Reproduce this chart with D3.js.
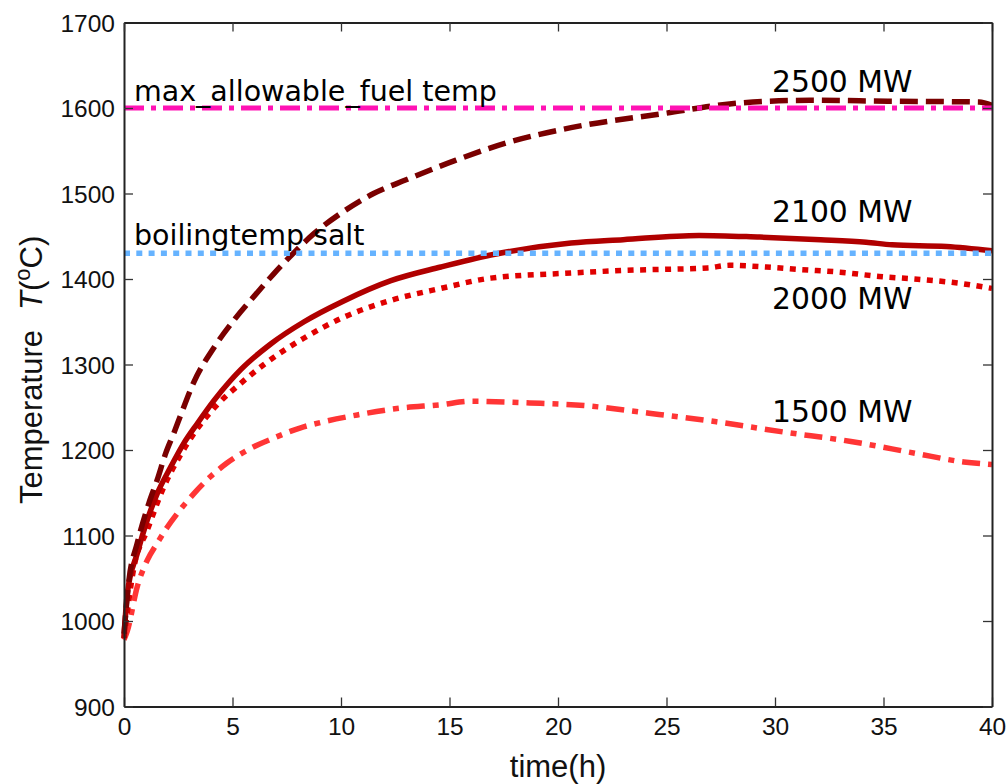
<!DOCTYPE html>
<html>
<head>
<meta charset="utf-8">
<script src="https://cdn.jsdelivr.net/npm/d3@7"></script>
<style>
  body { margin: 0; background: #fff; }
  svg { display: block; }
  .tick text { font-family: "Liberation Sans", Arial, sans-serif; font-size: 24.5px; fill: #111; }
  .note { font-family: "DejaVu Sans", Verdana, sans-serif; font-size: 28.5px; fill: #000; }
  .axlabel { font-family: "Liberation Sans", Arial, sans-serif; font-size: 31px; fill: #111; }
</style>
</head>
<body>
<div id="chart"></div>
<script>
// x ticks / y ticks
const xTicks = [0, 5, 10, 15, 20, 25, 30, 35, 40];
const yTicks = [900, 1000, 1100, 1200, 1300, 1400, 1500, 1600, 1700];

// 2500 MW
const t2500 = [0, 0.23, 0.61, 1.15, 1.53, 1.92, 2.3, 2.6, 3.23, 4.15, 5.07, 6.0, 6.9, 7.8, 8.75, 10, 11.5, 13, 15.3, 17.6, 20.6, 25, 28, 31.6, 35.2, 39.4, 40];
const T2500 = [985, 1048, 1091, 1138, 1165, 1196, 1220, 1240, 1280, 1320, 1352, 1380, 1406, 1430, 1453, 1477, 1500, 1516, 1539, 1559, 1577, 1594, 1605, 1609, 1608, 1607, 1603];

// 2100 MW
const t2100 = [0, 0.15, 0.61, 1.07, 1.53, 2.15, 2.76, 3.38, 4.15, 4.9, 5.38, 6.76, 8.3, 10.1, 12.3, 14.6, 16.9, 20.6, 23, 26.5, 29.3, 32.1, 34.2, 35.4, 37.9, 40];
const T2100 = [980, 1032, 1079, 1118, 1149, 1180, 1208, 1231, 1258, 1281, 1294, 1324, 1350, 1374, 1398, 1414, 1428, 1442, 1446, 1451, 1449, 1446, 1443, 1440, 1438, 1433];

// 2000 MW
const t2000 = [0, 0.46, 1.07, 1.84, 2.6, 3.38, 4.3, 5.38, 6.45, 8.3, 10.1, 12.3, 14.6, 16.9, 20.6, 23, 26.9, 27.9, 29.6, 31.2, 33, 34.8, 36.4, 38.5, 40];
const T2000 = [980, 1063, 1106, 1157, 1194, 1225, 1253, 1278, 1300, 1331, 1355, 1375, 1389, 1401, 1407, 1410, 1413, 1416, 1414, 1411, 1408, 1403, 1400, 1395, 1389];

// 1500 MW
const t1500 = [0, 0.15, 0.61, 1.07, 1.53, 2.0, 2.46, 3.22, 3.99, 4.76, 5.84, 6.9, 8.14, 9.2, 10.75, 12.75, 14.6, 16, 18.7, 21.2, 24.2, 27.3, 30.4, 33.5, 36.5, 38.7, 40];
const T1500 = [978, 988, 1040, 1071, 1091, 1110, 1126, 1149, 1169, 1185, 1202, 1214, 1226, 1233, 1241, 1249, 1253, 1257, 1255, 1252, 1243, 1233, 1221, 1210, 1196, 1186, 1183];

// limits
const maxFuelTemp = 1600;
const boilingSalt = 1430;

const width = 1008, height = 784;
const margin = { left: 124, right: 16, top: 22.5, bottom: 77.5 };

const x = d3.scaleLinear().domain([0, 40]).range([margin.left, width - margin.right]);
const y = d3.scaleLinear().domain([900, 1700]).range([height - margin.bottom, margin.top]);

const svg = d3.select("#chart").append("svg")
    .attr("width", width)
    .attr("height", height);

const line = d3.line()
    .x(d => x(d[0]))
    .y(d => y(d[1]))
    .curve(d3.curveMonotoneX);

const series = [
    { t: t1500, T: T1500, color: "#ff3535", dash: "18,8,6,8" },
    { t: t2000, T: T2000, color: "#e00000", dash: "6,6.5" },
    { t: t2100, T: T2100, color: "#b00000", dash: null },
    { t: t2500, T: T2500, color: "#7a0000", dash: "18,8" }
];

series.forEach(s => {
    svg.append("path")
        .datum(d3.zip(s.t, s.T))
        .attr("d", line)
        .attr("fill", "none")
        .attr("stroke", s.color)
        .attr("stroke-width", 5.5)
        .attr("stroke-dasharray", s.dash);
});

// reference lines
svg.append("line")
    .attr("x1", x(0)).attr("x2", x(40))
    .attr("y1", y(boilingSalt)).attr("y2", y(boilingSalt))
    .attr("stroke", "#66b3ff")
    .attr("stroke-width", 5.5)
    .attr("stroke-dasharray", "6,6.3");

svg.append("line")
    .attr("x1", x(0)).attr("x2", x(40))
    .attr("y1", y(maxFuelTemp)).attr("y2", y(maxFuelTemp))
    .attr("stroke", "#ff12b4")
    .attr("stroke-width", 5)
    .attr("stroke-dasharray", "20,7,5,7");

// axes, ticks pointing inward on all sides
const fmt = d3.format("d");
const axBottom = svg.append("g")
    .attr("transform", `translate(0,${y(900)})`)
    .call(d3.axisBottom(x).tickValues(xTicks).tickFormat(fmt).tickSizeInner(-9).tickSizeOuter(0).tickPadding(11));
const axLeft = svg.append("g")
    .attr("transform", `translate(${x(0)},0)`)
    .call(d3.axisLeft(y).tickValues(yTicks).tickFormat(fmt).tickSizeInner(-9).tickSizeOuter(0).tickPadding(9));
const axTop = svg.append("g")
    .attr("transform", `translate(0,${y(1700)})`)
    .call(d3.axisTop(x).tickValues(xTicks).tickSizeInner(-9).tickSizeOuter(0).tickFormat(""));
const axRight = svg.append("g")
    .attr("transform", `translate(${x(40)},0)`)
    .call(d3.axisRight(y).tickValues(yTicks).tickSizeInner(-9).tickSizeOuter(0).tickFormat(""));

[axBottom, axLeft, axTop, axRight].forEach(g => {
    g.select(".domain").attr("stroke", "#222").attr("stroke-width", 2);
    g.selectAll(".tick line").attr("stroke", "#333").attr("stroke-width", 1.3);
});
axBottom.selectAll(".tick text").attr("dy", "0.71em");
axLeft.selectAll(".tick text").attr("dy", "0.36em");

// annotations
const notes = [
    { text: "max_allowable_fuel temp", x: 134, y: 101, size: 28.5 },
    { text: "boilingtemp salt", x: 134, y: 245, size: 28.5 },
    { text: "2500 MW", x: 772, y: 92, size: 29.8 },
    { text: "2100 MW", x: 772, y: 222, size: 29.8 },
    { text: "2000 MW", x: 772, y: 309, size: 29.8 },
    { text: "1500 MW", x: 772, y: 422, size: 29.8 }
];
svg.selectAll(".note")
    .data(notes)
    .enter()
    .append("text")
    .attr("class", "note")
    .attr("x", d => d.x)
    .attr("y", d => d.y)
    .style("font-size", d => d.size + "px")
    .text(d => d.text);

// axis labels
svg.append("text")
    .attr("class", "axlabel")
    .attr("x", (x(0) + x(40)) / 2)
    .attr("y", 777)
    .attr("text-anchor", "middle")
    .text("time(h)");

const yl = svg.append("text")
    .attr("class", "axlabel")
    .attr("transform", "translate(42,504) rotate(-90)")
    .attr("text-anchor", "start");
yl.append("tspan").text("Temperature");
yl.append("tspan").attr("dx", 20).attr("font-style", "italic").text("T");
yl.append("tspan").text("(");
yl.append("tspan").attr("font-size", "22px").attr("dy", -12).text("o");
yl.append("tspan").attr("dy", 12).text("C)");
</script>
</body>
</html>
